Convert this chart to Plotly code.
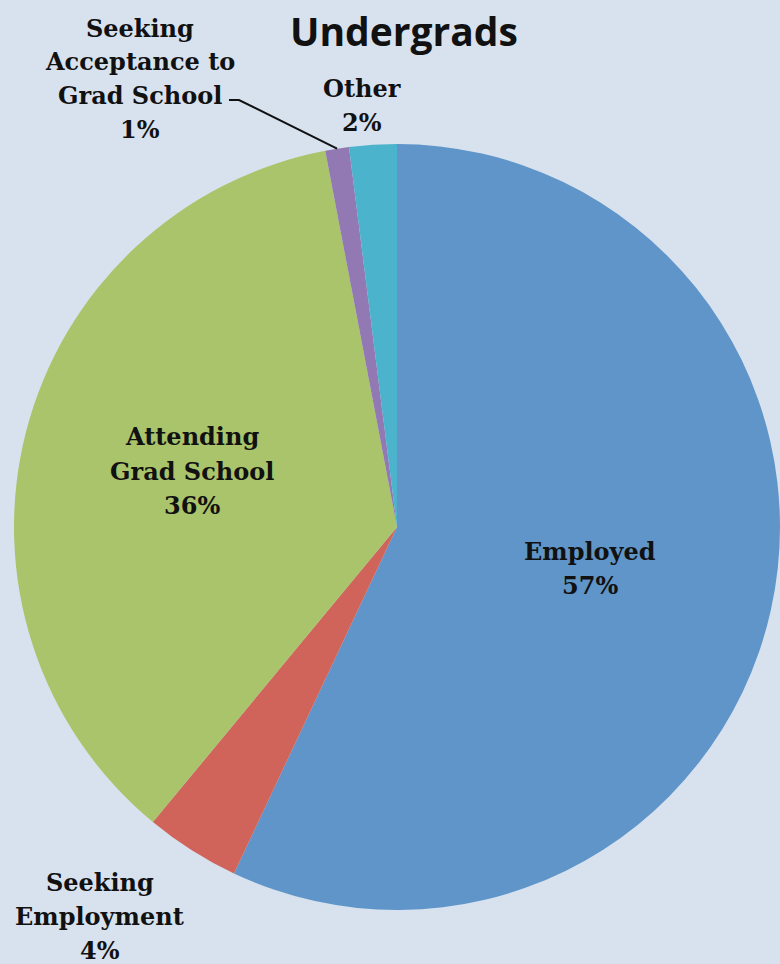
import math
import plotly.graph_objects as go

labels = ["Employed", "Seeking Employment", "Attending Grad School",
          "Seeking Acceptance to Grad School", "Other"]
values = [57, 4, 36, 1, 2]
colors = ["#5F95C9", "#D0645B", "#A9C46A", "#9379B3", "#4CB3CD"]
label_lines = [["Employed", "57%"],
               ["Seeking", "Employment", "4%"],
               ["Attending", "Grad School", "36%"],
               ["Seeking", "Acceptance to", "Grad School", "1%"],
               ["Other", "2%"]]

W, H = 780, 964
CX, CY, R = 397, 527, 383  # pie center / radius in pixels

def px(x):
    return x / W

def py(y):
    return 1 - y / H

fig = go.Figure(go.Pie(
    labels=labels, values=values, sort=False, direction="clockwise",
    rotation=0, marker=dict(colors=colors, line=dict(width=0)),
    textinfo="none", hoverinfo="label+percent", showlegend=False,
    domain=dict(x=[px(CX - R), px(CX + R)], y=[py(CY + R), py(CY - R)]),
))

# first-line centres (pixels) and line spacing
label_pos = [(590, 551), (100, 882), (192, 437), (140, 28), (362, 88)]
LS = 34
font = dict(family="DejaVu Serif", size=24, color="#111111")
for lines, (x, y) in zip(label_lines, label_pos):
    for i, line in enumerate(lines):
        fig.add_annotation(x=px(x), y=py(y + i * LS), xref="paper", yref="paper",
                           text="<b>" + line + "</b>", showarrow=False,
                           font=font, align="center", xanchor="center",
                           yanchor="middle")

# leader line for the small purple slice
total = sum(values)
mid = (sum(values[:3]) + values[3] / 2) / total * 2 * math.pi
ex = CX + R * math.sin(mid)
ey = CY - R * math.cos(mid)
fig.add_shape(type="path", xref="paper", yref="paper",
              path=f"M {px(229)} {py(100)} L {px(239)} {py(100)} L {px(ex)} {py(ey)}",
              line=dict(color="#111111", width=2))

fig.add_annotation(x=px(404), y=py(31), xref="paper", yref="paper",
                   text="<b>Undergrads</b>", showarrow=False,
                   font=dict(family="Open Sans", size=39, color="#111111"),
                   xanchor="center", yanchor="middle")

fig.update_layout(width=W, height=H, margin=dict(l=0, r=0, t=0, b=0),
                  paper_bgcolor="#D7E2EE", plot_bgcolor="#D7E2EE")
fig.write_html("out.html", config={"displayModeBar": False},
               post_script="document.body.style.margin='0';"
                           "document.body.style.overflow='hidden';"
                           "document.body.style.background='#D7E2EE';")
